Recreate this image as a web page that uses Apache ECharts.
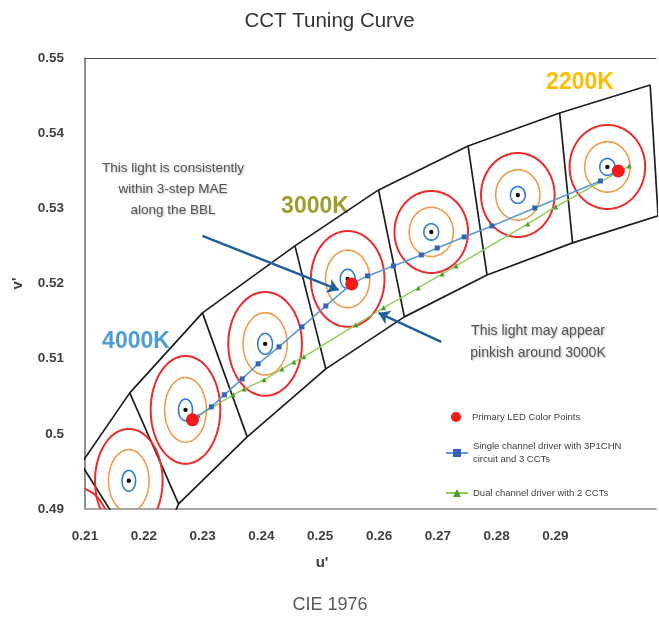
<!DOCTYPE html>
<html>
<head>
<meta charset="utf-8">
<script src="https://cdn.jsdelivr.net/npm/echarts@6/dist/echarts.min.js"></script>
<style>html,body{margin:0;padding:0;background:#fff;}#chart{width:659px;height:617px;}</style>
</head>
<body>
<div id="chart"></div>
<script>
// ---- data (CIE 1976 u', v') ----
const xTickLabels = ['0.21','0.22','0.23','0.24','0.25','0.26','0.27','0.28','0.29'];
const yTickLabels = ['0.49','0.5','0.51','0.52','0.53','0.54','0.55'];

// MacAdam ellipse centres and outer (red) semi-axes [u, v, a, b]
const ellipses = [
  [0.2088, 0.4859, 0.00575, 0.00691],
  [0.21745, 0.49375, 0.00575, 0.00691],
  [0.22709, 0.50319, 0.00592, 0.00718],
  [0.24063, 0.51197, 0.00626, 0.00691],
  [0.25467, 0.52061, 0.00626, 0.00638],
  [0.26888, 0.52686, 0.00626, 0.00545],
  [0.28360, 0.53178, 0.00626, 0.00559],
  [0.29883, 0.53551, 0.00643, 0.00559]
];

// isotherm quadrilateral grid: upper and lower ends of each isotherm line
const isoTop = [
  [0.20932, 0.49601], [0.21761, 0.50545], [0.22997, 0.51609], [0.24570, 0.52500],
  [0.25992, 0.53245], [0.27514, 0.53830], [0.29071, 0.54269], [0.30611, 0.54641]
];
const isoBottom = [
  [0.22100, 0.48125], [0.22591, 0.49069], [0.23758, 0.49960], [0.25095, 0.50864],
  [0.26431, 0.51556], [0.27836, 0.52114], [0.29291, 0.52540], [0.30746, 0.52899]
];

const primaryPoints = [[0.22827, 0.50186], [0.25535, 0.51995], [0.30069, 0.53497]];

const singleChannel = [
  [0.22827, 0.50186], [0.23149, 0.50359], [0.23369, 0.50519], [0.23673, 0.50731],
  [0.23944, 0.50931], [0.24299, 0.51157], [0.24689, 0.51423], [0.25095, 0.51702],
  [0.25535, 0.51995], [0.25805, 0.52101], [0.26245, 0.52234], [0.26719, 0.52380],
  [0.26990, 0.52473], [0.27447, 0.52620], [0.27920, 0.52766], [0.28648, 0.53005],
  [0.29765, 0.53364]
];

const dualChannel = [
  [0.22929, 0.50239], [0.23521, 0.50519], [0.23707, 0.50598], [0.24046, 0.50718],
  [0.24350, 0.50864], [0.24553, 0.50957], [0.24722, 0.51024], [0.25602, 0.51449],
  [0.26076, 0.51676], [0.26668, 0.51941], [0.27074, 0.52128], [0.27311, 0.52234],
  [0.28530, 0.52793], [0.29003, 0.53019], [0.30255, 0.53564]
];

const arrowBBL = [[0.22997, 0.52633], [0.25315, 0.51915]];
const arrowPink = [[0.27058, 0.51223], [0.25992, 0.51609]];

const seriesNames = [
  'Primary LED Color Points',
  'Single channel driver with 3P1CHN\ncircuit and 3 CCTs',
  'Dual channel driver with 2 CCTs'
];

// ---- chart ----
const chart = echarts.init(document.getElementById('chart'));
const FONT = 'Liberation Sans';

function xLabel(v) {
  const i = Math.round((v - 0.21) / 0.01);
  return (Math.abs(v - (0.21 + i * 0.01)) < 1e-6 && xTickLabels[i]) ? xTickLabels[i] : '';
}
function yLabel(v) {
  const i = Math.round((v - 0.49) / 0.01);
  return yTickLabels[i] || '';
}

const gridLine = (data) => ({
  type: 'line', data: data, symbol: 'none', silent: true, animation: false, z: 1,
  lineStyle: { color: '#1e1e1e', width: 1.7 }
});

// isotherm lines: upper boundary, lower boundary, and each isotherm (top -> bottom)
const series = [gridLine(isoTop), gridLine(isoBottom.slice(1))];
series.push(gridLine([isoBottom[0], isoBottom[1]]));
series.push(gridLine([isoTop[0], [0.21457, 0.48949]]));
isoTop.slice(1).forEach((t, i) => series.push(gridLine([t, isoBottom[i + 1]])));

series.push({
  type: 'custom', data: ellipses, clip: true, silent: true, animation: false, z: 2,
  encode: { x: 0, y: 1 },
  renderItem: function (params, api) {
    const u = api.value(0), v = api.value(1), a = api.value(2), b = api.value(3);
    const rings = [[1, '#ec2c2a', 2], [0.6, '#f29a4c', 1.6], [0.2, '#2f7bd4', 1.6]];
    const children = rings.map(function (r) {
      const pts = [];
      for (let k = 0; k < 90; k++) {
        const t = k / 90 * Math.PI * 2;
        pts.push(api.coord([u + a * r[0] * Math.cos(t), v + b * r[0] * Math.sin(t)]));
      }
      return { type: 'polygon', shape: { points: pts }, style: { fill: 'none', stroke: r[1], lineWidth: r[2] } };
    });
    const c = api.coord([u, v]);
    children.push({ type: 'circle', shape: { cx: c[0], cy: c[1], r: 2.2 }, style: { fill: '#111' } });
    return { type: 'group', children: children };
  }
});

series.push({
  name: seriesNames[1], type: 'line', data: singleChannel, z: 4, animation: false,
  symbol: 'rect', symbolSize: 5,
  itemStyle: { color: '#3563b5' },
  lineStyle: { color: '#5b9bd5', width: 1.6 }
});
series.push({
  name: seriesNames[2], type: 'line', data: dualChannel, z: 3, animation: false,
  symbol: 'triangle', symbolSize: 5,
  itemStyle: { color: '#4f9a2a' },
  lineStyle: { color: '#8fcd58', width: 1.4 }
});
series.push({
  name: seriesNames[0], type: 'scatter', data: primaryPoints, z: 6, animation: false,
  symbolSize: 13, itemStyle: { color: '#f21a1a', opacity: 1 },
  markLine: {
    silent: true, animation: false, symbol: ['none', 'arrow'], symbolSize: 11,
    label: { show: false },
    lineStyle: { color: '#1f5f9f', width: 2.5, type: 'solid' },
    data: [
      [{ coord: arrowBBL[0] }, { coord: arrowBBL[1] }],
      [{ coord: arrowPink[0] }, { coord: arrowPink[1] }]
    ]
  }
});

const legendText = { fontSize: 9.5, color: '#404040', fontFamily: FONT, lineHeight: 13 };
const mkLegend = (name, left, top, extra) => Object.assign({
  data: [name], left: left, top: top, orient: 'vertical', padding: 0,
  itemWidth: 22, itemHeight: 10, itemGap: 0, selectedMode: false,
  textStyle: Object.assign({}, legendText)
}, extra || {});

const option = {
  backgroundColor: '#fff',
  animation: false,
  title: [
    { text: 'CCT Tuning Curve', left: 'center', top: 6,
      textStyle: { fontSize: 20.5, fontWeight: 'normal', color: '#333', fontFamily: FONT } }
  ],
  grid: { left: 85, top: 58, right: 0, bottom: 108, containLabel: false },
  xAxis: [
    { type: 'value', min: 0.21, max: 0.3071, interval: 0.01,
      axisLine: { show: true, onZero: false, lineStyle: { color: '#a6a6a6', width: 2 } },
      axisTick: { show: false }, splitLine: { show: false },
      axisLabel: { formatter: xLabel, margin: 20, fontSize: 13.5, fontWeight: 'bold', color: '#404040', fontFamily: FONT,
        showMinLabel: true, showMaxLabel: true } },
    { type: 'value', position: 'top', min: 0.21, max: 0.3071,
      axisLine: { show: true, onZero: false, lineStyle: { color: '#505050', width: 1 } },
      axisTick: { show: false }, splitLine: { show: false }, axisLabel: { show: false } }
  ],
  yAxis: {
    type: 'value', min: 0.49, max: 0.55, interval: 0.01,
    name: "v'", nameLocation: 'middle', nameGap: 60, nameRotate: 90,
    nameTextStyle: { fontSize: 15, fontWeight: 'bold', color: '#404040', fontFamily: FONT },
    axisLine: { show: true, onZero: false, lineStyle: { color: '#6b6b6b', width: 1.5 } },
    axisTick: { show: false }, splitLine: { show: false },
    axisLabel: { formatter: yLabel, margin: 21, fontSize: 13.5, fontWeight: 'bold', color: '#404040', fontFamily: FONT }
  },
  legend: [
    mkLegend(seriesNames[0], 451, 410.5),
    mkLegend(seriesNames[1], 445, 433.5, { textStyle: Object.assign({}, legendText, { padding: [13, 0, 0, 0] }) }),
    mkLegend(seriesNames[2], 445, 486.5)
  ],
  graphic: [
    { type: 'text', x: 173, y: 189, silent: true,
      style: { text: 'This light is consistently\nwithin 3-step MAE\nalong the BBL', align: 'center', verticalAlign: 'middle',
        lineHeight: 21, fill: '#555', font: '13.5px ' + FONT,
        textShadowColor: 'rgba(0,0,0,0.28)', textShadowBlur: 2, textShadowOffsetX: 1, textShadowOffsetY: 1 } },
    { type: 'text', x: 538, y: 342, silent: true,
      style: { text: 'This light may appear\npinkish around 3000K', align: 'center', verticalAlign: 'middle',
        lineHeight: 22, fill: '#555', font: '14px ' + FONT,
        textShadowColor: 'rgba(0,0,0,0.28)', textShadowBlur: 2, textShadowOffsetX: 1, textShadowOffsetY: 1 } },
    { type: 'text', x: 136, y: 342, silent: true,
      style: { text: '4000K', align: 'center', verticalAlign: 'middle', fill: '#4f9bd9', font: 'bold 23px ' + FONT } },
    { type: 'text', x: 315, y: 207, silent: true,
      style: { text: '3000K', align: 'center', verticalAlign: 'middle', fill: '#9e9e2e', font: 'bold 23px ' + FONT } },
    { type: 'text', x: 580, y: 83, silent: true,
      style: { text: '2200K', align: 'center', verticalAlign: 'middle', fill: '#ffbf00', font: 'bold 23px ' + FONT } },
    { type: 'text', x: 322, y: 563, silent: true,
      style: { text: "u'", align: 'center', verticalAlign: 'middle', fill: '#404040', font: 'bold 15px ' + FONT } },
    { type: 'text', x: 330, y: 605, silent: true,
      style: { text: 'CIE 1976', align: 'center', verticalAlign: 'middle', fill: '#595959', font: '18px ' + FONT } }
  ],
  series: series
};
chart.setOption(option);
</script>
</body>
</html>
